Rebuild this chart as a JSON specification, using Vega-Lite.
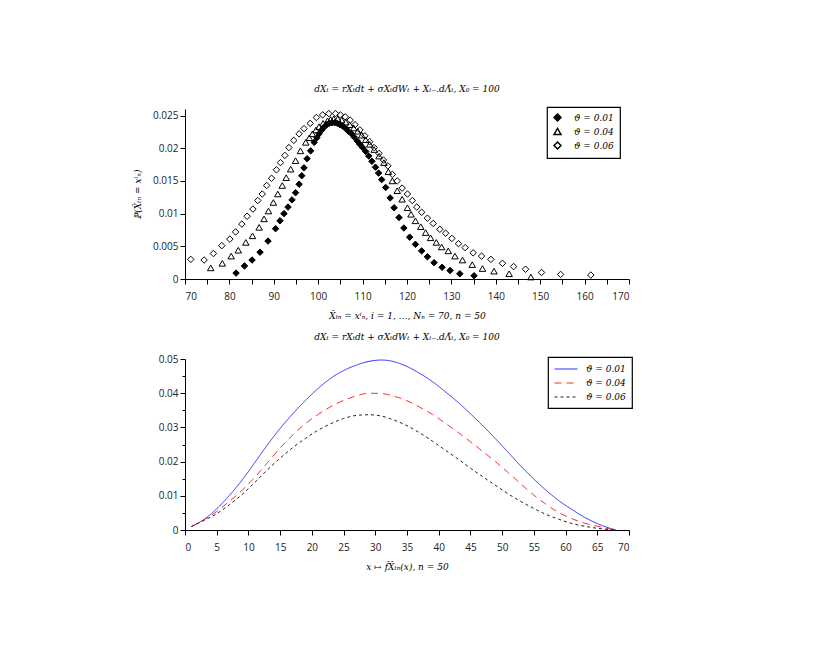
{
  "$schema": "https://vega.github.io/schema/vega-lite/v6.json",
  "padding": {"top": 85, "left": 133, "right": 5, "bottom": 5},
  "background": "white",
  "spacing": 13,
  "config": {
    "view": {"stroke": null},
    "axis": {"domainColor": "black", "tickColor": "black", "labelFont": "Open Sans", "labelFontSize": 10, "labelColor": "#222222", "grid": false, "tickSize": 5, "titleFont": "DejaVu Serif", "titleFontWeight": "normal", "titleFontStyle": "italic", "titleFontSize": 9, "titleColor": "black", "domainWidth": 1, "tickWidth": 1},
    "title": {"font": "DejaVu Serif", "fontStyle": "italic", "fontSize": 9, "fontWeight": "normal", "color": "black", "offset": 12},
    "legend": {"strokeColor": "black", "fillColor": "white", "padding": 6, "labelFont": "DejaVu Serif", "labelFontStyle": "italic", "labelFontSize": 9, "labelColor": "black", "rowPadding": 1.5, "cornerRadius": 0, "strokeWidth": 1.2}
  },
  "datasets": {
    "top": [
      {"x":81.5,"p":0.0009,"s":"ϑ = 0.01"},{"x":83.4,"p":0.0020,"s":"ϑ = 0.01"},{"x":85.1,"p":0.0029,"s":"ϑ = 0.01"},{"x":86.9,"p":0.0041,"s":"ϑ = 0.01"},{"x":88.7,"p":0.0058,"s":"ϑ = 0.01"},{"x":90.4,"p":0.0077,"s":"ϑ = 0.01"},{"x":91.4,"p":0.0089,"s":"ϑ = 0.01"},{"x":92.3,"p":0.0100,"s":"ϑ = 0.01"},{"x":93.2,"p":0.0110,"s":"ϑ = 0.01"},{"x":94.1,"p":0.0121,"s":"ϑ = 0.01"},{"x":94.9,"p":0.0132,"s":"ϑ = 0.01"},{"x":95.7,"p":0.0145,"s":"ϑ = 0.01"},{"x":96.3,"p":0.0158,"s":"ϑ = 0.01"},{"x":96.8,"p":0.0170,"s":"ϑ = 0.01"},{"x":97.5,"p":0.0184,"s":"ϑ = 0.01"},{"x":98.3,"p":0.0196,"s":"ϑ = 0.01"},{"x":99.1,"p":0.0209,"s":"ϑ = 0.01"},{"x":99.7,"p":0.0216,"s":"ϑ = 0.01"},{"x":100.2,"p":0.0222,"s":"ϑ = 0.01"},{"x":100.8,"p":0.0228,"s":"ϑ = 0.01"},{"x":101.3,"p":0.0232,"s":"ϑ = 0.01"},{"x":101.9,"p":0.0236,"s":"ϑ = 0.01"},{"x":102.5,"p":0.0238,"s":"ϑ = 0.01"},{"x":103.1,"p":0.0239,"s":"ϑ = 0.01"},{"x":103.7,"p":0.0239,"s":"ϑ = 0.01"},{"x":104.3,"p":0.0238,"s":"ϑ = 0.01"},{"x":104.9,"p":0.0236,"s":"ϑ = 0.01"},{"x":105.5,"p":0.0234,"s":"ϑ = 0.01"},{"x":106.2,"p":0.0230,"s":"ϑ = 0.01"},{"x":106.8,"p":0.0226,"s":"ϑ = 0.01"},{"x":107.5,"p":0.0222,"s":"ϑ = 0.01"},{"x":108.1,"p":0.0217,"s":"ϑ = 0.01"},{"x":108.8,"p":0.0211,"s":"ϑ = 0.01"},{"x":109.4,"p":0.0206,"s":"ϑ = 0.01"},{"x":110.0,"p":0.0201,"s":"ϑ = 0.01"},{"x":110.7,"p":0.0195,"s":"ϑ = 0.01"},{"x":111.4,"p":0.0188,"s":"ϑ = 0.01"},{"x":112.1,"p":0.0180,"s":"ϑ = 0.01"},{"x":112.9,"p":0.0171,"s":"ϑ = 0.01"},{"x":113.6,"p":0.0162,"s":"ϑ = 0.01"},{"x":114.3,"p":0.0152,"s":"ϑ = 0.01"},{"x":115.2,"p":0.0140,"s":"ϑ = 0.01"},{"x":116.2,"p":0.0124,"s":"ϑ = 0.01"},{"x":117.1,"p":0.0109,"s":"ϑ = 0.01"},{"x":118.2,"p":0.0094,"s":"ϑ = 0.01"},{"x":119.3,"p":0.0078,"s":"ϑ = 0.01"},{"x":120.6,"p":0.0064,"s":"ϑ = 0.01"},{"x":121.9,"p":0.0053,"s":"ϑ = 0.01"},{"x":123.3,"p":0.0043,"s":"ϑ = 0.01"},{"x":124.6,"p":0.0034,"s":"ϑ = 0.01"},{"x":126.1,"p":0.0025,"s":"ϑ = 0.01"},{"x":127.9,"p":0.0018,"s":"ϑ = 0.01"},{"x":129.7,"p":0.0013,"s":"ϑ = 0.01"},{"x":131.9,"p":0.0008,"s":"ϑ = 0.01"},{"x":135.1,"p":0.0005,"s":"ϑ = 0.01"},
      {"x":75.8,"p":0.0017,"s":"ϑ = 0.04"},{"x":78.4,"p":0.0024,"s":"ϑ = 0.04"},{"x":80.4,"p":0.0035,"s":"ϑ = 0.04"},{"x":82.0,"p":0.0044,"s":"ϑ = 0.04"},{"x":83.7,"p":0.0056,"s":"ϑ = 0.04"},{"x":85.2,"p":0.0066,"s":"ϑ = 0.04"},{"x":86.7,"p":0.0079,"s":"ϑ = 0.04"},{"x":87.8,"p":0.0092,"s":"ϑ = 0.04"},{"x":88.8,"p":0.0104,"s":"ϑ = 0.04"},{"x":89.9,"p":0.0117,"s":"ϑ = 0.04"},{"x":90.9,"p":0.0130,"s":"ϑ = 0.04"},{"x":91.9,"p":0.0143,"s":"ϑ = 0.04"},{"x":92.8,"p":0.0155,"s":"ϑ = 0.04"},{"x":93.8,"p":0.0168,"s":"ϑ = 0.04"},{"x":94.9,"p":0.0181,"s":"ϑ = 0.04"},{"x":96.0,"p":0.0196,"s":"ϑ = 0.04"},{"x":97.2,"p":0.0209,"s":"ϑ = 0.04"},{"x":98.0,"p":0.0216,"s":"ϑ = 0.04"},{"x":98.7,"p":0.0222,"s":"ϑ = 0.04"},{"x":99.5,"p":0.0228,"s":"ϑ = 0.04"},{"x":100.2,"p":0.0233,"s":"ϑ = 0.04"},{"x":101.1,"p":0.0238,"s":"ϑ = 0.04"},{"x":102.1,"p":0.0242,"s":"ϑ = 0.04"},{"x":102.8,"p":0.0244,"s":"ϑ = 0.04"},{"x":103.5,"p":0.0245,"s":"ϑ = 0.04"},{"x":104.4,"p":0.0245,"s":"ϑ = 0.04"},{"x":105.3,"p":0.0243,"s":"ϑ = 0.04"},{"x":106.2,"p":0.0240,"s":"ϑ = 0.04"},{"x":107.1,"p":0.0236,"s":"ϑ = 0.04"},{"x":108.0,"p":0.0231,"s":"ϑ = 0.04"},{"x":108.9,"p":0.0226,"s":"ϑ = 0.04"},{"x":109.8,"p":0.0220,"s":"ϑ = 0.04"},{"x":110.7,"p":0.0213,"s":"ϑ = 0.04"},{"x":111.6,"p":0.0206,"s":"ϑ = 0.04"},{"x":112.6,"p":0.0198,"s":"ϑ = 0.04"},{"x":113.7,"p":0.0188,"s":"ϑ = 0.04"},{"x":114.8,"p":0.0178,"s":"ϑ = 0.04"},{"x":115.8,"p":0.0164,"s":"ϑ = 0.04"},{"x":116.7,"p":0.0150,"s":"ϑ = 0.04"},{"x":117.8,"p":0.0135,"s":"ϑ = 0.04"},{"x":118.9,"p":0.0122,"s":"ϑ = 0.04"},{"x":120.1,"p":0.0109,"s":"ϑ = 0.04"},{"x":120.9,"p":0.0099,"s":"ϑ = 0.04"},{"x":121.9,"p":0.0089,"s":"ϑ = 0.04"},{"x":123.1,"p":0.0080,"s":"ϑ = 0.04"},{"x":124.2,"p":0.0071,"s":"ϑ = 0.04"},{"x":125.3,"p":0.0063,"s":"ϑ = 0.04"},{"x":126.6,"p":0.0056,"s":"ϑ = 0.04"},{"x":127.8,"p":0.0049,"s":"ϑ = 0.04"},{"x":129.3,"p":0.0043,"s":"ϑ = 0.04"},{"x":130.8,"p":0.0035,"s":"ϑ = 0.04"},{"x":132.5,"p":0.0029,"s":"ϑ = 0.04"},{"x":134.7,"p":0.0022,"s":"ϑ = 0.04"},{"x":137.0,"p":0.0016,"s":"ϑ = 0.04"},{"x":139.6,"p":0.0012,"s":"ϑ = 0.04"},{"x":143.0,"p":0.0008,"s":"ϑ = 0.04"},{"x":147.9,"p":0.0003,"s":"ϑ = 0.04"},
      {"x":71.3,"p":0.0030,"s":"ϑ = 0.06"},{"x":74.3,"p":0.0029,"s":"ϑ = 0.06"},{"x":76.4,"p":0.0039,"s":"ϑ = 0.06"},{"x":78.3,"p":0.0051,"s":"ϑ = 0.06"},{"x":80.1,"p":0.0061,"s":"ϑ = 0.06"},{"x":81.4,"p":0.0072,"s":"ϑ = 0.06"},{"x":82.8,"p":0.0084,"s":"ϑ = 0.06"},{"x":84.0,"p":0.0096,"s":"ϑ = 0.06"},{"x":85.3,"p":0.0107,"s":"ϑ = 0.06"},{"x":86.4,"p":0.0120,"s":"ϑ = 0.06"},{"x":87.4,"p":0.0130,"s":"ϑ = 0.06"},{"x":88.4,"p":0.0143,"s":"ϑ = 0.06"},{"x":89.5,"p":0.0154,"s":"ϑ = 0.06"},{"x":90.6,"p":0.0167,"s":"ϑ = 0.06"},{"x":91.5,"p":0.0178,"s":"ϑ = 0.06"},{"x":92.5,"p":0.0189,"s":"ϑ = 0.06"},{"x":93.4,"p":0.0201,"s":"ϑ = 0.06"},{"x":94.5,"p":0.0212,"s":"ϑ = 0.06"},{"x":95.7,"p":0.0222,"s":"ϑ = 0.06"},{"x":96.8,"p":0.0230,"s":"ϑ = 0.06"},{"x":98.2,"p":0.0238,"s":"ϑ = 0.06"},{"x":99.6,"p":0.0247,"s":"ϑ = 0.06"},{"x":101.0,"p":0.0251,"s":"ϑ = 0.06"},{"x":102.4,"p":0.0253,"s":"ϑ = 0.06"},{"x":103.9,"p":0.0253,"s":"ϑ = 0.06"},{"x":105.0,"p":0.0251,"s":"ϑ = 0.06"},{"x":106.1,"p":0.0248,"s":"ϑ = 0.06"},{"x":107.2,"p":0.0243,"s":"ϑ = 0.06"},{"x":108.3,"p":0.0236,"s":"ϑ = 0.06"},{"x":109.4,"p":0.0228,"s":"ϑ = 0.06"},{"x":110.5,"p":0.0219,"s":"ϑ = 0.06"},{"x":111.6,"p":0.0210,"s":"ϑ = 0.06"},{"x":112.6,"p":0.0201,"s":"ϑ = 0.06"},{"x":113.7,"p":0.0192,"s":"ϑ = 0.06"},{"x":114.7,"p":0.0182,"s":"ϑ = 0.06"},{"x":115.7,"p":0.0173,"s":"ϑ = 0.06"},{"x":116.7,"p":0.0160,"s":"ϑ = 0.06"},{"x":117.8,"p":0.0150,"s":"ϑ = 0.06"},{"x":118.9,"p":0.0139,"s":"ϑ = 0.06"},{"x":120.1,"p":0.0130,"s":"ϑ = 0.06"},{"x":121.2,"p":0.0120,"s":"ϑ = 0.06"},{"x":122.2,"p":0.0110,"s":"ϑ = 0.06"},{"x":123.3,"p":0.0102,"s":"ϑ = 0.06"},{"x":124.6,"p":0.0093,"s":"ϑ = 0.06"},{"x":125.9,"p":0.0085,"s":"ϑ = 0.06"},{"x":127.4,"p":0.0076,"s":"ϑ = 0.06"},{"x":128.7,"p":0.0070,"s":"ϑ = 0.06"},{"x":130.1,"p":0.0062,"s":"ϑ = 0.06"},{"x":131.6,"p":0.0054,"s":"ϑ = 0.06"},{"x":133.1,"p":0.0048,"s":"ϑ = 0.06"},{"x":134.9,"p":0.0040,"s":"ϑ = 0.06"},{"x":136.8,"p":0.0035,"s":"ϑ = 0.06"},{"x":138.9,"p":0.0030,"s":"ϑ = 0.06"},{"x":141.5,"p":0.0024,"s":"ϑ = 0.06"},{"x":144.0,"p":0.0019,"s":"ϑ = 0.06"},{"x":146.7,"p":0.0015,"s":"ϑ = 0.06"},{"x":150.3,"p":0.0010,"s":"ϑ = 0.06"},{"x":154.6,"p":0.0007,"s":"ϑ = 0.06"},{"x":161.4,"p":0.0006,"s":"ϑ = 0.06"}
    ],
    "bottom": [
      {"x":1,"f":0.0010,"s":"ϑ = 0.01"},{"x":3,"f":0.0031,"s":"ϑ = 0.01"},{"x":5,"f":0.0062,"s":"ϑ = 0.01"},{"x":7,"f":0.0101,"s":"ϑ = 0.01"},{"x":9,"f":0.0146,"s":"ϑ = 0.01"},{"x":11,"f":0.0197,"s":"ϑ = 0.01"},{"x":13,"f":0.0249,"s":"ϑ = 0.01"},{"x":15,"f":0.0297,"s":"ϑ = 0.01"},{"x":17,"f":0.0340,"s":"ϑ = 0.01"},{"x":19,"f":0.0379,"s":"ϑ = 0.01"},{"x":21,"f":0.0414,"s":"ϑ = 0.01"},{"x":23,"f":0.0444,"s":"ϑ = 0.01"},{"x":25,"f":0.0466,"s":"ϑ = 0.01"},{"x":27,"f":0.0482,"s":"ϑ = 0.01"},{"x":29,"f":0.0493,"s":"ϑ = 0.01"},{"x":31,"f":0.0497,"s":"ϑ = 0.01"},{"x":33,"f":0.0492,"s":"ϑ = 0.01"},{"x":35,"f":0.0478,"s":"ϑ = 0.01"},{"x":37,"f":0.0458,"s":"ϑ = 0.01"},{"x":39,"f":0.0434,"s":"ϑ = 0.01"},{"x":41,"f":0.0405,"s":"ϑ = 0.01"},{"x":43,"f":0.0374,"s":"ϑ = 0.01"},{"x":45,"f":0.0340,"s":"ϑ = 0.01"},{"x":47,"f":0.0304,"s":"ϑ = 0.01"},{"x":49,"f":0.0266,"s":"ϑ = 0.01"},{"x":51,"f":0.0226,"s":"ϑ = 0.01"},{"x":53,"f":0.0186,"s":"ϑ = 0.01"},{"x":55,"f":0.0149,"s":"ϑ = 0.01"},{"x":57,"f":0.0115,"s":"ϑ = 0.01"},{"x":59,"f":0.0085,"s":"ϑ = 0.01"},{"x":61,"f":0.0060,"s":"ϑ = 0.01"},{"x":63,"f":0.0037,"s":"ϑ = 0.01"},{"x":65,"f":0.0019,"s":"ϑ = 0.01"},{"x":67,"f":0.0005,"s":"ϑ = 0.01"},{"x":68,"f":0.0,"s":"ϑ = 0.01"},
      {"x":1,"f":0.0010,"s":"ϑ = 0.04"},{"x":3,"f":0.0030,"s":"ϑ = 0.04"},{"x":5,"f":0.0054,"s":"ϑ = 0.04"},{"x":7,"f":0.0084,"s":"ϑ = 0.04"},{"x":9,"f":0.0116,"s":"ϑ = 0.04"},{"x":11,"f":0.0154,"s":"ϑ = 0.04"},{"x":13,"f":0.0197,"s":"ϑ = 0.04"},{"x":15,"f":0.0240,"s":"ϑ = 0.04"},{"x":17,"f":0.0278,"s":"ϑ = 0.04"},{"x":19,"f":0.0311,"s":"ϑ = 0.04"},{"x":21,"f":0.0338,"s":"ϑ = 0.04"},{"x":23,"f":0.0361,"s":"ϑ = 0.04"},{"x":25,"f":0.0379,"s":"ϑ = 0.04"},{"x":27,"f":0.0392,"s":"ϑ = 0.04"},{"x":29,"f":0.0400,"s":"ϑ = 0.04"},{"x":31,"f":0.0399,"s":"ϑ = 0.04"},{"x":33,"f":0.0391,"s":"ϑ = 0.04"},{"x":35,"f":0.0378,"s":"ϑ = 0.04"},{"x":37,"f":0.0359,"s":"ϑ = 0.04"},{"x":39,"f":0.0338,"s":"ϑ = 0.04"},{"x":41,"f":0.0313,"s":"ϑ = 0.04"},{"x":43,"f":0.0286,"s":"ϑ = 0.04"},{"x":45,"f":0.0258,"s":"ϑ = 0.04"},{"x":47,"f":0.0229,"s":"ϑ = 0.04"},{"x":49,"f":0.0199,"s":"ϑ = 0.04"},{"x":51,"f":0.0167,"s":"ϑ = 0.04"},{"x":53,"f":0.0134,"s":"ϑ = 0.04"},{"x":55,"f":0.0102,"s":"ϑ = 0.04"},{"x":57,"f":0.0074,"s":"ϑ = 0.04"},{"x":59,"f":0.0050,"s":"ϑ = 0.04"},{"x":61,"f":0.0033,"s":"ϑ = 0.04"},{"x":63,"f":0.0020,"s":"ϑ = 0.04"},{"x":65,"f":0.0011,"s":"ϑ = 0.04"},{"x":67,"f":0.0003,"s":"ϑ = 0.04"},{"x":68,"f":0.0,"s":"ϑ = 0.04"},
      {"x":1,"f":0.0010,"s":"ϑ = 0.06"},{"x":3,"f":0.0028,"s":"ϑ = 0.06"},{"x":5,"f":0.0048,"s":"ϑ = 0.06"},{"x":7,"f":0.0074,"s":"ϑ = 0.06"},{"x":9,"f":0.0104,"s":"ϑ = 0.06"},{"x":11,"f":0.0139,"s":"ϑ = 0.06"},{"x":13,"f":0.0176,"s":"ϑ = 0.06"},{"x":15,"f":0.0210,"s":"ϑ = 0.06"},{"x":17,"f":0.0241,"s":"ϑ = 0.06"},{"x":19,"f":0.0268,"s":"ϑ = 0.06"},{"x":21,"f":0.0292,"s":"ϑ = 0.06"},{"x":23,"f":0.0311,"s":"ϑ = 0.06"},{"x":25,"f":0.0326,"s":"ϑ = 0.06"},{"x":27,"f":0.0335,"s":"ϑ = 0.06"},{"x":29,"f":0.0337,"s":"ϑ = 0.06"},{"x":31,"f":0.0333,"s":"ϑ = 0.06"},{"x":33,"f":0.0321,"s":"ϑ = 0.06"},{"x":35,"f":0.0305,"s":"ϑ = 0.06"},{"x":37,"f":0.0284,"s":"ϑ = 0.06"},{"x":39,"f":0.0260,"s":"ϑ = 0.06"},{"x":41,"f":0.0234,"s":"ϑ = 0.06"},{"x":43,"f":0.0208,"s":"ϑ = 0.06"},{"x":45,"f":0.0181,"s":"ϑ = 0.06"},{"x":47,"f":0.0155,"s":"ϑ = 0.06"},{"x":49,"f":0.0130,"s":"ϑ = 0.06"},{"x":51,"f":0.0105,"s":"ϑ = 0.06"},{"x":53,"f":0.0083,"s":"ϑ = 0.06"},{"x":55,"f":0.0063,"s":"ϑ = 0.06"},{"x":57,"f":0.0045,"s":"ϑ = 0.06"},{"x":59,"f":0.0031,"s":"ϑ = 0.06"},{"x":61,"f":0.0019,"s":"ϑ = 0.06"},{"x":63,"f":0.0011,"s":"ϑ = 0.06"},{"x":65,"f":0.0005,"s":"ϑ = 0.06"},{"x":67,"f":0.0001,"s":"ϑ = 0.06"},{"x":68,"f":0.0,"s":"ϑ = 0.06"}
    ]
  },
  "resolve": {"scale": {"x": "independent", "y": "independent", "shape": "independent", "fill": "independent", "color": "independent", "strokeDash": "independent"}, "legend": {"shape": "independent", "fill": "independent", "color": "independent", "strokeDash": "independent"}},
  "vconcat": [
    {
      "width": 444,
      "height": 170,
      "title": {"text": "dXₜ = rXₜdt + σXₜdWₜ + Xₜ₋.dΛ̃ₜ,  X₀ = 100"},
      "data": {"name": "top"},
      "mark": {"type": "point", "filled": true, "stroke": "black", "strokeWidth": 1, "size": 42, "opacity": 1},
      "encoding": {
        "x": {"field": "x", "type": "quantitative", "scale": {"domain": [70, 170], "nice": false, "zero": false},
              "axis": {"values": [70,75,80,85,90,95,100,105,110,115,120,125,130,135,140,145,150,155,160,165,170], "labelExpr": "datum.value % 10 === 0 ? datum.label : ''", "format": "d", "title": "X̂ₜₙ = xⁱₙ,  i = 1, …, Nₙ = 70,  n = 50", "titlePadding": 10, "labelPadding": 7}},
        "y": {"field": "p", "type": "quantitative", "scale": {"domain": [0, 0.026], "nice": false},
              "axis": {"values": [0, 0.005, 0.01, 0.015, 0.02, 0.025], "format": "~g", "title": "ℙ(X̂ₜₙ = xⁱₙ)", "titlePadding": 10}},
        "shape": {"field": "s", "type": "nominal", "scale": {"domain": ["ϑ = 0.01", "ϑ = 0.04", "ϑ = 0.06"], "range": ["diamond", "triangle-up", "diamond"]},
                  "legend": {"title": null, "orient": "none", "legendX": 362, "legendY": -2, "symbolSize": 48, "labelOffset": 12, "rowPadding": 1, "labelExpr": "datum.label + '\u00a0\u00a0\u00a0\u00a0\u00a0\u00a0\u00a0'", "encode": {"symbols": {"update": {"stroke": {"value": "black"}, "strokeWidth": {"value": 1}}}}}},
        "fill": {"field": "s", "type": "nominal", "scale": {"domain": ["ϑ = 0.01", "ϑ = 0.04", "ϑ = 0.06"], "range": ["black", "transparent", "transparent"]},
                 "legend": {"title": null, "orient": "none", "legendX": 362, "legendY": -2, "symbolSize": 48, "labelOffset": 12, "rowPadding": 1, "labelExpr": "datum.label + '\u00a0\u00a0\u00a0\u00a0\u00a0\u00a0\u00a0'", "encode": {"symbols": {"update": {"stroke": {"value": "black"}, "strokeWidth": {"value": 1}}}}}}
      }
    },
    {
      "width": 444,
      "height": 171,
      "title": {"text": "dXₜ = rXₜdt + σXₜdWₜ + Xₜ₋.dΛ̃ₜ,  X₀ = 100"},
      "data": {"name": "bottom"},
      "mark": {"type": "line", "strokeWidth": 1, "interpolate": "monotone"},
      "encoding": {
        "x": {"field": "x", "type": "quantitative", "scale": {"domain": [0, 70], "nice": false},
              "axis": {"values": [0,5,10,15,20,25,30,35,40,45,50,55,60,65,70], "format": "d", "title": "x ↦ f̂X̂ₜₙ(x), n = 50", "titlePadding": 10, "labelPadding": 7}},
        "y": {"field": "f", "type": "quantitative", "scale": {"domain": [0, 0.05], "nice": false},
              "axis": {"values": [0, 0.005, 0.01, 0.015, 0.02, 0.025, 0.03, 0.035, 0.04, 0.045, 0.05], "labelExpr": "round(datum.value * 1000) % 10 === 0 ? format(datum.value, '~g') : ''", "title": null, "tickSize": {"condition": {"test": "round(datum.value * 1000) % 10 === 0", "value": 5}, "value": 3}}},
        "color": {"field": "s", "type": "nominal", "scale": {"domain": ["ϑ = 0.01", "ϑ = 0.04", "ϑ = 0.06"], "range": ["#3030ff", "#ff3030", "#222222"]},
                  "legend": {"title": null, "orient": "none", "legendX": 363, "legendY": -2, "symbolType": "M-2.3,0H2.3", "symbolSize": 100, "symbolOffset": 6, "symbolStrokeWidth": 1.2, "labelOffset": 14, "rowPadding": 3, "labelExpr": "datum.label + '\u00a0'"}},
        "strokeDash": {"field": "s", "type": "nominal", "scale": {"domain": ["ϑ = 0.01", "ϑ = 0.04", "ϑ = 0.06"], "range": [[1, 0], [7, 5], [3, 3]]},
                  "legend": {"title": null, "orient": "none", "legendX": 363, "legendY": -2, "symbolType": "M-2.3,0H2.3", "symbolSize": 100, "symbolOffset": 6, "symbolStrokeWidth": 1.2, "labelOffset": 14, "rowPadding": 3, "labelExpr": "datum.label + '\u00a0'"}}
      }
    }
  ]
}
